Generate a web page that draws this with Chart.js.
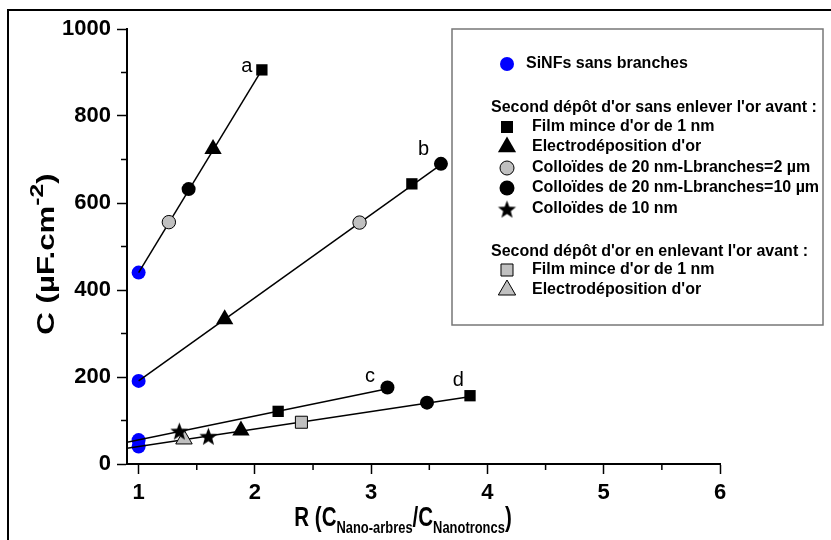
<!DOCTYPE html>
<html>
<head>
<meta charset="utf-8">
<script src="https://cdn.jsdelivr.net/npm/chart.js@4.4.1/dist/chart.umd.min.js"></script>
<style>
  html, body { margin: 0; padding: 0; background: #fff; }
  #wrap { width: 831px; height: 540px; }
</style>
</head>
<body>
<div id="wrap"><canvas id="chart" width="831" height="540"></canvas></div>
<script>
// axis ticks
const xTicks = [1, 2, 3, 4, 5, 6];
const xMinor = [1.5, 2.5, 3.5, 4.5, 5.5];
const yTicks = [0, 200, 400, 600, 800, 1000];
const yMinor = [100, 300, 500, 700, 900];

// SiNFs sans branches (blue)
const sinfX = [1, 1, 1, 1];
const sinfY = [440, 191, 55, 40];
// second depot sans enlever l'or avant
const filmX = [2.06, 3.35, 2.2, 3.85];
const filmY = [906, 644, 121, 157];
const electroX = [1.64, 1.74, 1.88];
const electroY = [724, 333, 77];
const coll2X = [1.26, 2.9];
const coll2Y = [556, 555];
const coll10X = [1.43, 3.6, 3.14, 3.48];
const coll10Y = [632, 690, 176, 141];
const coll10nmX = [1.35, 1.6];
const coll10nmY = [76, 64];
// second depot en enlevant l'or avant
const filmGrisX = [2.4];
const filmGrisY = [96];
const electroGrisX = [1.39];
const electroGrisY = [57];

// fitted lines a, b, c, d
const fitAX = [1, 2.06], fitAY = [440, 906];
const fitBX = [1, 3.6], fitBY = [191, 688];
const fitCX = [0.9, 3.14], fitCY = [50, 173];
const fitDX = [0.9, 3.86], fitDY = [36, 155];

// curve labels
const curveNames = ['a', 'b', 'c', 'd'];
const curveNameX = [1.93, 3.45, 2.99, 3.75];
const curveNameY = [914, 723, 202, 192];

const FONT = '"Liberation Sans", Arial, Helvetica, sans-serif';
const GRAY = '#c0c0c0';

function pts(xs, ys) {
    return xs.map((x, i) => ({ x: x, y: ys[i] }));
}

function makeStar(r, fill) {
    const s = Math.ceil(2 * r + 2);
    const c = document.createElement('canvas');
    c.width = s; c.height = s;
    const g = c.getContext('2d');
    g.beginPath();
    for (let i = 0; i < 10; i++) {
        const rr = i % 2 ? r * 0.42 : r;
        const a = -Math.PI / 2 + i * Math.PI / 5;
        g.lineTo(s / 2 + rr * Math.cos(a), s / 2 + 1 + rr * Math.sin(a));
    }
    g.closePath();
    g.fillStyle = fill;
    g.fill();
    return c;
}
const starImg = makeStar(9.5, '#000');

function markerSet(label, xs, ys, style, radius, fill, border, order) {
    return {
        label: label,
        data: pts(xs, ys),
        showLine: false,
        pointStyle: style,
        pointRadius: radius,
        pointBackgroundColor: fill,
        pointBorderColor: '#000',
        pointBorderWidth: border,
        order: order
    };
}

function fitLine(xs, ys) {
    return {
        label: '',
        data: pts(xs, ys),
        showLine: true,
        borderColor: '#000',
        borderWidth: 1.5,
        pointRadius: 0,
        order: 2
    };
}

// draw one legend marker
function drawMark(ctx, style, r, fill, stroke, x, y) {
    ctx.save();
    ctx.fillStyle = fill;
    ctx.strokeStyle = '#000';
    ctx.lineWidth = 1;
    ctx.beginPath();
    if (style === 'circle') {
        ctx.arc(x, y, r, 0, Math.PI * 2);
    } else if (style === 'rect') {
        const s = r * Math.SQRT1_2;
        ctx.rect(x - s, y - s, 2 * s, 2 * s);
    } else if (style === 'triangle') {
        ctx.moveTo(x, y - r);
        ctx.lineTo(x + r * Math.sin(2 * Math.PI / 3), y - r * Math.cos(2 * Math.PI / 3));
        ctx.lineTo(x + r * Math.sin(4 * Math.PI / 3), y - r * Math.cos(4 * Math.PI / 3));
        ctx.closePath();
    } else if (style === 'star') {
        ctx.drawImage(starImg, x - starImg.width / 2, y - starImg.height / 2);
        ctx.restore();
        return;
    }
    ctx.fill();
    if (stroke) ctx.stroke();
    ctx.restore();
}

// text in pieces (sub/superscripts), scaled along the text by sx
function drawParts(ctx, parts, cx, baseY, sx) {
    let w = 0;
    parts.forEach(p => { ctx.font = p[1]; w += ctx.measureText(p[0]).width; });
    ctx.save();
    ctx.translate(cx, baseY);
    ctx.scale(sx, 1);
    let x = -w / 2;
    parts.forEach(p => {
        ctx.font = p[1];
        ctx.fillText(p[0], x, p[2]);
        x += ctx.measureText(p[0]).width;
    });
    ctx.restore();
}

const extras = {
    id: 'extras',
    beforeDraw(chart) {
        const ctx = chart.ctx;
        ctx.save();
        ctx.strokeStyle = '#000';
        ctx.lineWidth = 2;
        ctx.beginPath();
        ctx.moveTo(8, 541);
        ctx.lineTo(8, 10);
        ctx.lineTo(832, 10);
        ctx.stroke();
        ctx.restore();
    },
    afterDraw(chart) {
        const ctx = chart.ctx;
        const xs = chart.scales.x, ys = chart.scales.y;
        const area = chart.chartArea;
        ctx.save();
        // minor ticks
        ctx.strokeStyle = '#000';
        ctx.lineWidth = 1.5;
        ctx.beginPath();
        xMinor.forEach(v => {
            const px = xs.getPixelForValue(v);
            ctx.moveTo(px, area.bottom);
            ctx.lineTo(px, area.bottom + 6);
        });
        yMinor.forEach(v => {
            const py = ys.getPixelForValue(v);
            ctx.moveTo(area.left, py);
            ctx.lineTo(area.left - 6, py);
        });
        ctx.stroke();

        // curve names
        ctx.fillStyle = '#000';
        ctx.font = '20px ' + FONT;
        ctx.textAlign = 'center';
        ctx.textBaseline = 'middle';
        curveNames.forEach((n, i) => {
            ctx.fillText(n, xs.getPixelForValue(curveNameX[i]), ys.getPixelForValue(curveNameY[i]));
        });

        // axis titles
        ctx.textAlign = 'left';
        ctx.textBaseline = 'alphabetic';
        const big = 'bold 27px ' + FONT, small = 'bold 17px ' + FONT;
        drawParts(ctx, [['R (C', big, 0], ['Nano-arbres', small, 7], ['/C', big, 0], ['Nanotroncs', small, 7], [')', big, 0]], 403, 526, 0.76);

        ctx.save();
        ctx.translate(54, 254);
        ctx.rotate(-Math.PI / 2);
        drawParts(ctx, [['C (\u00b5F.cm', 'bold 24px ' + FONT, 0], ['-2', 'bold 19px ' + FONT, -11], [')', 'bold 24px ' + FONT, 0]], 0, 0, 1.3);
        ctx.restore();

        // legend box
        ctx.strokeStyle = '#777';
        ctx.lineWidth = 1.5;
        ctx.strokeRect(452, 29, 371, 296);
        ctx.fillStyle = '#000';
        ctx.textBaseline = 'middle';
        ctx.font = 'bold 16px ' + FONT;
        drawMark(ctx, 'circle', 7, '#0000ff', false, 507, 64);
        ctx.fillText('SiNFs sans branches', 526, 64);
        ctx.fillText("Second d\u00e9p\u00f4t d'or sans enlever l'or avant :", 491, 108);
        const items = [
            ['rect', 8.5, '#000', false, 'Film mince d\'or de 1 nm', 127],
            ['triangle', 10.5, '#000', false, 'Electrod\u00e9position d\'or', 147],
            ['circle', 7, GRAY, true, 'Collo\u00efdes de 20 nm-Lbranches=2 \u00b5m', 168],
            ['circle', 7.5, '#000', false, 'Collo\u00efdes de 20 nm-Lbranches=10 \u00b5m', 188],
            ['star', 9, '#000', false, 'Collo\u00efdes de 10 nm', 209],
            ['rect', 8.5, GRAY, true, 'Film mince d\'or de 1 nm', 270],
            ['triangle', 10, GRAY, true, 'Electrod\u00e9position d\'or', 290]
        ];
        items.forEach(it => {
            drawMark(ctx, it[0], it[1], it[2], it[3], 507, it[5]);
            ctx.fillStyle = '#000';
            ctx.fillText(it[4], 532, it[5]);
        });
        ctx.fillText("Second d\u00e9p\u00f4t d'or en enlevant l'or avant :", 491, 252);
        ctx.restore();
    }
};

const ctx = document.getElementById('chart').getContext('2d');
new Chart(ctx, {
    type: 'scatter',
    data: {
        datasets: [
            markerSet('SiNFs sans branches', sinfX, sinfY, 'circle', 7, '#0000ff', 0, 3),
            fitLine(fitAX, fitAY),
            fitLine(fitBX, fitBY),
            fitLine(fitCX, fitCY),
            fitLine(fitDX, fitDY),
            markerSet('Film mince', filmX, filmY, 'rect', 8, '#000', 0, 1),
            markerSet('Electrodeposition', electroX, electroY, 'triangle', 10, '#000', 0, 1),
            markerSet('Colloides 2', coll2X, coll2Y, 'circle', 6.7, GRAY, 1, 1),
            markerSet('Colloides 10', coll10X, coll10Y, 'circle', 7, '#000', 0, 1),
            markerSet('Colloides 10 nm', coll10nmX, coll10nmY, starImg, 9, '#000', 0, 1),
            markerSet('Film gris', filmGrisX, filmGrisY, 'rect', 8.5, GRAY, 1, 1),
            markerSet('Electro gris', electroGrisX, electroGrisY, 'triangle', 9.5, GRAY, 1, 1)
        ]
    },
    options: {
        responsive: false,
        animation: false,
        devicePixelRatio: 1,
        layout: { padding: { left: 0, right: 111, top: 29, bottom: 0 } },
        plugins: {
            legend: { display: false },
            tooltip: { enabled: false }
        },
        scales: {
            x: {
                type: 'linear',
                min: 0.9,
                max: 6,
                afterFit(scale) { scale.height = 76; },
                afterBuildTicks(scale) { scale.ticks = xTicks.map(v => ({ value: v })); },
                border: { color: '#000', width: 2 },
                grid: { drawOnChartArea: false, drawTicks: true, tickLength: 10, tickColor: '#000', tickWidth: 1.5 },
                ticks: { color: '#000', padding: 6, font: { family: FONT, size: 22, weight: 'bold' }, maxRotation: 0, callback: v => String(v) }
            },
            y: {
                type: 'linear',
                min: 0,
                max: 1000,
                afterFit(scale) { scale.width = 127; },
                afterBuildTicks(scale) { scale.ticks = yTicks.map(v => ({ value: v })); },
                border: { color: '#000', width: 2 },
                grid: { drawOnChartArea: false, drawTicks: true, tickLength: 10, tickColor: '#000', tickWidth: 1.5 },
                ticks: { color: '#000', padding: 6, font: { family: FONT, size: 22, weight: 'bold' }, callback: v => String(v) }
            }
        }
    },
    plugins: [extras]
});
</script>
</body>
</html>
